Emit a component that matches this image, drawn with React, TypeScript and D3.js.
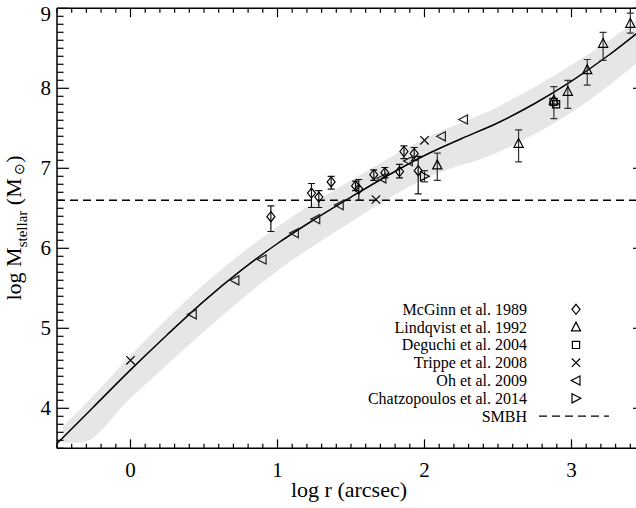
import React from 'react';
import * as d3 from 'd3';

// ---------- data ----------
const curveX = [-0.5, -0.25, 0, 0.25, 0.5, 0.75, 1, 1.25, 1.5, 1.75, 2, 2.25, 2.5, 2.75, 3, 3.25, 3.5];
const curveY = [3.56, 4.02, 4.48, 4.92, 5.34, 5.72, 6.06, 6.36, 6.64, 6.91, 7.16, 7.37, 7.57, 7.81, 8.09, 8.41, 8.77];

const bandX = [-0.46, -0.34, 0, 0.5, 1, 1.5, 2, 2.5, 3, 3.5];
const bandUpper = [3.77, 3.99, 4.66, 5.55, 6.27, 6.85, 7.37, 7.77, 8.29, 8.92];
const bandLower = [3.57, 3.57, 4.13, 4.96, 5.72, 6.33, 6.87, 7.2, 7.7, 8.4];

const mcginnX = [0.955, 1.231, 1.281, 1.365, 1.531, 1.553, 1.655, 1.73, 1.83, 1.86, 1.93, 1.957];
const mcginnY = [6.395, 6.69, 6.64, 6.83, 6.78, 6.74, 6.92, 6.945, 6.96, 7.21, 7.185, 6.97];
const mcginnLo = [6.21, 6.51, 6.51, 6.74, 6.72, 6.6, 6.85, 6.88, 6.88, 7.12, 7.1, 6.68];
const mcginnHi = [6.53, 6.81, 6.72, 6.9, 6.84, 6.86, 6.98, 7.01, 7.05, 7.28, 7.26, 7.15];

const lindqvistX = [2.087, 2.64, 2.88, 2.975, 3.107, 3.215, 3.4];
const lindqvistY = [7.04, 7.31, 7.85, 7.96, 8.23, 8.56, 8.81];
const lindqvistLo = [6.85, 7.08, 7.62, 7.75, 8.04, 8.35, 8.69];
const lindqvistHi = [7.19, 7.48, 8.02, 8.1, 8.36, 8.7, 8.94];

const deguchiX = [2.878, 2.895];
const deguchiY = [7.83, 7.8];

const trippeX = [0, 1.67, 2.0];
const trippeY = [4.6, 6.61, 7.35];

const ohX = [0.42, 0.71, 0.895, 1.115, 1.26, 1.42, 1.71, 1.89, 2.115, 2.265];
const ohY = [5.175, 5.6, 5.86, 6.19, 6.365, 6.54, 6.875, 7.09, 7.4, 7.61];

const chatzX = [2.0];
const chatzY = [6.9];
const chatzLo = [6.83];
const chatzHi = [6.97];

const smbh = 6.6;

const xMajor = [0, 1, 2, 3];
const yMajor = [4, 5, 6, 7, 8, 9];

const legendLabels = [
  'McGinn et al. 1989',
  'Lindqvist et al. 1992',
  'Deguchi et al. 2004',
  'Trippe et al. 2008',
  'Oh et al. 2009',
  'Chatzopoulos et al. 2014',
  'SMBH',
];
const legendSymbols = ['diamond', 'triUp', 'square', 'cross', 'triLeft', 'triRight', 'dash'];

// ---------- layout ----------
const W = 636, H = 508;
const X0 = 57, X1 = 645, Y0 = 448.3, Y1 = 8.3;
const FONT = '"Liberation Serif", "Times New Roman", serif';

function symPath(t: string): string {
  switch (t) {
    case 'diamond': return 'M0,-5L4,0L0,5L-4,0Z';
    case 'triUp': return 'M0,-5L4.6,3.8L-4.6,3.8Z';
    case 'square': return 'M-3.6,-3.6h7.2v7.2h-7.2Z';
    case 'cross': return 'M-4.2,-4.2L4.2,4.2M-4.2,4.2L4.2,-4.2';
    case 'triLeft': return 'M-4.8,0L4,-4.6L4,4.6Z';
    case 'triRight': return 'M4.8,0L-4,-4.6L-4,4.6Z';
    default: return '';
  }
}

export default function App() {
  const x = d3.scaleLinear().domain([-0.5, 3.5]).range([X0, X1]);
  const y = d3.scaleLinear().domain([3.5, 9]).range([Y0, Y1]);

  const linePath = d3.line<number>()
    .x((_, i) => x(curveX[i]))
    .y((d) => y(d))
    .curve(d3.curveCatmullRom.alpha(0.5))(curveY) || '';

  const bandPath = d3.area<number>()
    .x((_, i) => x(bandX[i]))
    .y0((_, i) => y(bandLower[i]))
    .y1((d) => y(d))
    .curve(d3.curveMonotoneX)(bandUpper) || '';

  const xMinor = d3.range(-5, 36).map((v) => v / 10).filter((v) => !xMajor.includes(v));
  const yMinor = d3.range(35, 91).map((v) => v / 10).filter((v) => !yMajor.includes(v));

  const markers = (xs: number[], ys: number[], t: string, color = '#000') =>
    xs.map((v, i) => (
      <path key={t + i} d={symPath(t)} transform={`translate(${x(v)},${y(ys[i])})`}
        fill="none" stroke={color} strokeWidth={1.2} />
    ));

  const errBars = (xs: number[], lo: number[], hi: number[], key: string, color: string) =>
    xs.map((v, i) => {
      const px = x(v);
      return (
        <g key={key + i} stroke={color} strokeWidth={1.2}>
          <line x1={px} x2={px} y1={y(lo[i])} y2={y(hi[i])} />
          <line x1={px - 3.5} x2={px + 3.5} y1={y(lo[i])} y2={y(lo[i])} />
          <line x1={px - 3.5} x2={px + 3.5} y1={y(hi[i])} y2={y(hi[i])} />
        </g>
      );
    });

  const legX = 527, legSymX = 576, legY0 = 309.3, legDy = 17.8;

  return (
    <svg width={W} height={H} style={{ position: 'absolute', left: 0, top: 0 }} fontFamily={FONT}>
      <rect width={W} height={H} fill="#fff" />
      <defs>
        <clipPath id="plotClip">
          <rect x={X0} y={Y1} width={X1 - X0} height={Y0 - Y1} />
        </clipPath>
      </defs>
      <g clipPath="url(#plotClip)">
        <path d={bandPath} fill="#e6e6e6" stroke="none" />
        <line x1={X0} x2={X1} y1={y(smbh)} y2={y(smbh)} stroke="#000" strokeWidth={1.5} strokeDasharray="8,5" />
        <path d={linePath} fill="none" stroke="#000" strokeWidth={1.5} />
        {errBars(mcginnX, mcginnLo, mcginnHi, 'em', '#111')}
        {errBars(lindqvistX, lindqvistLo, lindqvistHi, 'el', '#333')}
        {errBars(chatzX, chatzLo, chatzHi, 'ec', '#333')}
        {markers(ohX, ohY, 'triLeft', '#222')}
        {markers(mcginnX, mcginnY, 'diamond')}
        {markers(lindqvistX, lindqvistY, 'triUp')}
        {markers(deguchiX, deguchiY, 'square')}
        {markers(trippeX, trippeY, 'cross')}
        {markers(chatzX, chatzY, 'triRight')}
      </g>

      {/* axes frame */}
      <g stroke="#000" strokeWidth={1.5} fill="none">
        <line x1={X0} x2={X1} y1={Y0} y2={Y0} />
        <line x1={X0} x2={X1} y1={Y1} y2={Y1} />
        <line x1={X0} x2={X0} y1={Y0} y2={Y1} />
        <line x1={X1} x2={X1} y1={Y0} y2={Y1} />
      </g>
      <g stroke="#000" strokeWidth={1.2}>
        {xMajor.map((v) => (
          <g key={'xM' + v}>
            <line x1={x(v)} x2={x(v)} y1={Y0} y2={Y0 - 9} />
            <line x1={x(v)} x2={x(v)} y1={Y1} y2={Y1 + 9} />
          </g>
        ))}
        {xMinor.map((v) => (
          <g key={'xm' + v}>
            <line x1={x(v)} x2={x(v)} y1={Y0} y2={Y0 - 4.5} />
            <line x1={x(v)} x2={x(v)} y1={Y1} y2={Y1 + 4.5} />
          </g>
        ))}
        {yMajor.map((v) => (
          <g key={'yM' + v}>
            <line x1={X0} x2={X0 + 12} y1={y(v)} y2={y(v)} />
            <line x1={X1} x2={X1 - 12} y1={y(v)} y2={y(v)} />
          </g>
        ))}
        {yMinor.map((v) => (
          <g key={'ym' + v}>
            <line x1={X0} x2={X0 + 6.5} y1={y(v)} y2={y(v)} />
            <line x1={X1} x2={X1 - 6.5} y1={y(v)} y2={y(v)} />
          </g>
        ))}
      </g>

      {/* tick labels */}
      <g fontSize={21} fill="#000">
        {xMajor.map((v) => (
          <text key={'xl' + v} x={x(v)} y={476.7} textAnchor="middle">{v}</text>
        ))}
        {yMajor.map((v) => (
          <text key={'yl' + v} x={51} y={Math.max(y(v), 13.7) + 7} textAnchor="end">{v}</text>
        ))}
      </g>

      {/* axis titles */}
      <text x={349} y={497} textAnchor="middle" fontSize={22}>log r (arcsec)</text>
      <text transform="translate(20.7,228) rotate(-90)" textAnchor="middle" fontSize={22}>
        log M<tspan fontSize={15} dy={6}>stellar</tspan>
        <tspan dy={-6}> (M</tspan><tspan fontSize={14} dy={3}>{' \u2299'}</tspan><tspan dy={-3}>)</tspan>
      </text>

      {/* legend */}
      <g fontSize={16}>
        {legendLabels.map((lab, i) => {
          const cy = legY0 + i * legDy;
          const t = legendSymbols[i];
          return (
            <g key={'lg' + i}>
              <text x={legX} y={cy + 5.5} textAnchor="end">{lab}</text>
              {t === 'dash' ? (
                <line x1={539} x2={609} y1={cy} y2={cy} stroke="#000" strokeWidth={1.3} strokeDasharray="8,5" />
              ) : (
                <path d={symPath(t)} transform={`translate(${legSymX},${cy})`} fill="none" stroke="#000" strokeWidth={1.2} />
              )}
            </g>
          );
        })}
      </g>
    </svg>
  );
}
